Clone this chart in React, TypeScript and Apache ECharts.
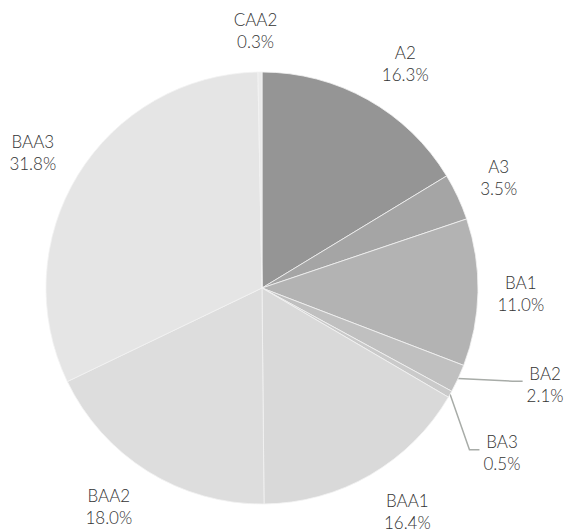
import React, { useEffect, useRef } from "react";
import * as echarts from "echarts";

const categories = ["A2", "A3", "BA1", "BA2", "BA3", "BAA1", "BAA2", "BAA3", "CAA2"];
const values = [16.3, 3.5, 11.0, 2.1, 0.5, 16.4, 18.0, 31.8, 0.3];
const colors = ["#959595", "#a5a5a5", "#b3b3b3", "#c0c0c0", "#cacaca", "#d9d9d9", "#dddddd", "#e5e5e5", "#ebebeb"];
const leaderLined = ["BA2", "BA3"];

const CX = 262;
const CY = 288;
const R = 216;
const LABEL_GAP = 19;
const nudges: Record<string, { da: number; r?: number }> = {
  A2: { da: 3.2 },
  BA2: { da: -6, r: 299 },
  BA3: { da: 5, r: 291 },
  BAA1: { da: -3.0 },
  BAA2: { da: 3.2 },
  BAA3: { da: -1 },
  CAA2: { da: -0.9 },
};

export default function App() {
  const ref = useRef<HTMLDivElement>(null);
  useEffect(() => {
    if (!ref.current) return;
    const chart = echarts.init(ref.current, undefined, { renderer: "svg" });
    const total = values.reduce((a, b) => a + b, 0);
    const mids: number[] = [];
    let acc = 0;
    values.forEach((v) => {
      mids.push(((acc + v / 2) / total) * 360);
      acc += v;
    });
    const polar = (deg: number, r: number) => {
      const t = (deg * Math.PI) / 180;
      return [CX + r * Math.sin(t), CY - r * Math.cos(t)];
    };
    chart.setOption({
      animation: false,
      backgroundColor: "#ffffff",
      series: [
        {
          type: "pie",
          center: [CX, CY],
          radius: R,
          startAngle: 90,
          clockwise: true,
          avoidLabelOverlap: false,
          itemStyle: { borderColor: "#f2f2f2", borderWidth: 0.8 },
          label: {
            show: true,
            position: "outside",
            color: "#333333",
            fontFamily: "Lato, 'DejaVu Sans', sans-serif",
            fontWeight: 300,
            fontSize: 17,
            lineHeight: 22,
            align: "center",
            formatter: (p: any) => `${p.name}\n${Number(p.value).toFixed(1)}%`,
          },
          labelLine: { show: false, lineStyle: { color: "#a8aca8", width: 1.5 } },
          labelLayout: (params: any) => {
            const i = params.dataIndex;
            const name = categories[i];
            const nd = nudges[name];
            const ang = mids[i] + (nd ? nd.da : 0);
            const w = params.labelRect ? params.labelRect.width : 44;
            const h = params.labelRect ? params.labelRect.height : 44;
            const t = (ang * Math.PI) / 180;
            let dist: number;
            if (nd && nd.r) {
              dist = nd.r;
            } else {
              dist = R + LABEL_GAP + (w / 2) * Math.abs(Math.sin(t)) + (h / 2) * Math.abs(Math.cos(t));
            }
            const [x, y] = polar(ang, dist);
            const out: any = { x, y, align: "center", verticalAlign: "middle" };
            if (leaderLined.includes(name)) {
              const endX = x - w / 2 - 4;
              const endY = y - 3;
              const start = polar(mids[i], R);
              out.labelLinePoints = [start, [endX - 10, endY], [endX, endY]];
            }
            return out;
          },
          data: categories.map((c, i) => ({
            name: c,
            value: values[i],
            itemStyle: { color: colors[i] },
            labelLine: leaderLined.includes(c) ? { show: true, length: 20, length2: 10 } : { show: false },
          })),
        },
      ],
    });
    return () => chart.dispose();
  }, []);
  return (
    <div
      ref={ref}
      style={{ position: "fixed", left: 0, top: 0, width: 564, height: 529 }}
    />
  );
}
